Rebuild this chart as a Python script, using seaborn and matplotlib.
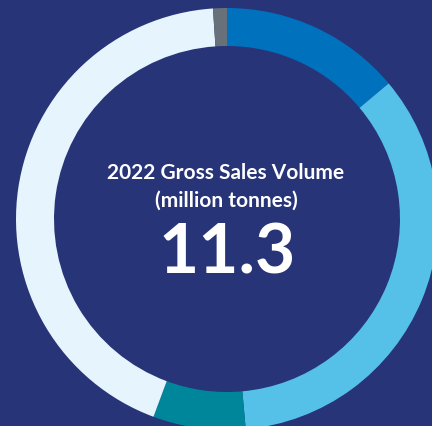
import matplotlib
matplotlib.use("Agg")
import matplotlib.pyplot as plt
import seaborn as sns

# Data (million tonnes), clockwise from 12 o'clock
segments = ["Segment A", "Segment B", "Segment C", "Segment D", "Other"]
volumes = [1.57, 3.92, 0.80, 4.89, 0.12]
colors = ["#0071BC", "#56C1E8", "#00869B", "#E6F4FD", "#687079"]
title_lines = ["2022 Gross Sales Volume", "(million tonnes)"]
total_label = "11.3"

bg = "#283478"
sns.set_theme(style="white")
plt.rcParams["font.family"] = ["Lato", "DejaVu Sans"]

W, H = 432, 427
fig = plt.figure(figsize=(W / 100, H / 100), dpi=100, facecolor=bg)
ax = fig.add_axes([0, 0, 1, 1])
ax.set_facecolor(bg)

cx, cy, R, ring = 227, H - 220, 211, 38
ax.pie(volumes, colors=colors, startangle=90, counterclock=False,
       center=(cx, cy), radius=R,
       wedgeprops=dict(width=ring, linewidth=0, antialiased=True))
ax.set_xlim(0, W)
ax.set_ylim(0, H)
ax.set_aspect("auto")
ax.axis("off")

ax.text(cx - 1, H - 173, title_lines[0], color="white", fontsize=15,
        fontweight="bold", ha="center", va="center")
ax.text(cx - 1, H - 201, title_lines[1], color="white", fontsize=15,
        fontweight="bold", ha="center", va="center")
ax.text(cx, H - 254, total_label, color="white", fontsize=50,
        fontweight="bold", ha="center", va="center")

fig.savefig("out.png", dpi=100, facecolor=bg)
